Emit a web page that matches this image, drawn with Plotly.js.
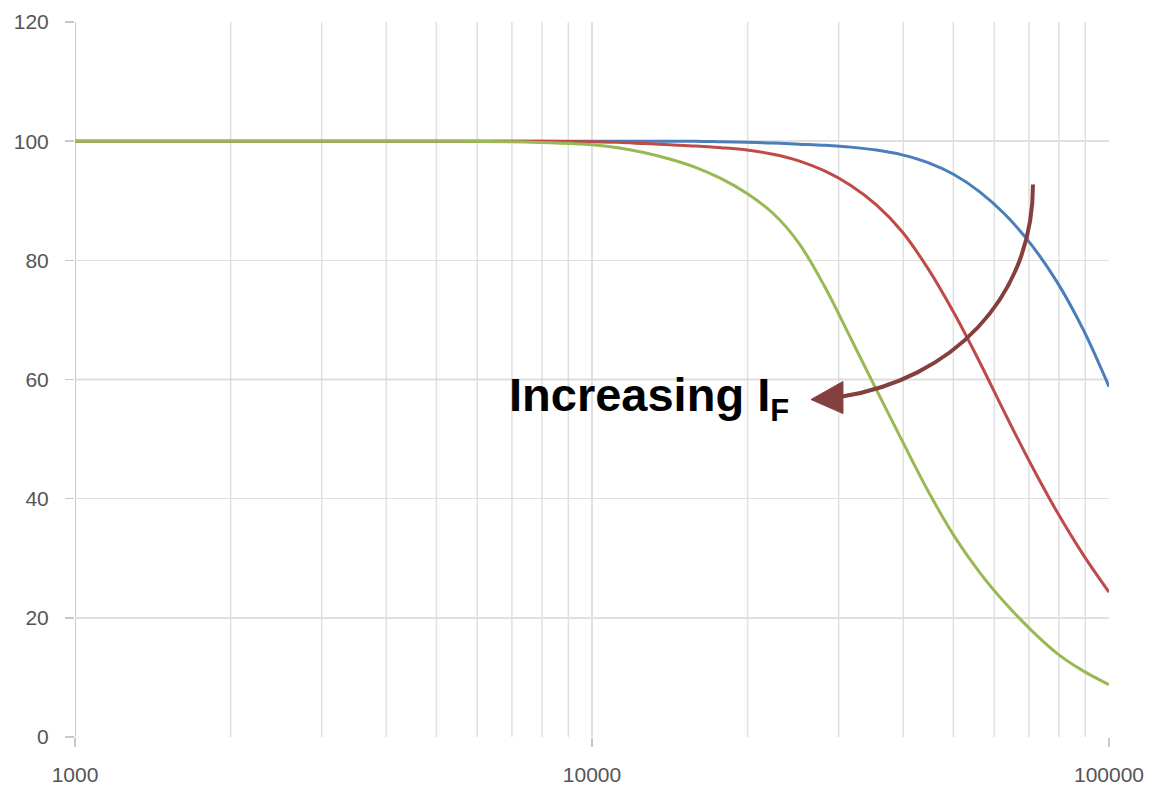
<!DOCTYPE html>
<html>
<head>
<meta charset="utf-8">
<script src="https://cdn.plot.ly/plotly-3.0.1.min.js"></script>
<style>html,body{margin:0;padding:0;background:#fff;}#chart{width:1155px;height:788px;}</style>
</head>
<body>
<div id="chart"></div>
<script>
// Frequency (x, log scale)
const freq = [1000, 2000, 3000, 5000, 7000, 10000, 11220, 12589, 14125, 15849, 17783, 19953, 22387, 25119, 28184, 31623, 35481, 39811, 44668, 50119, 56234, 63096, 70795, 79433, 89125, 100000];
// Series values (%)
const blueVals  = [100, 100, 100, 100, 100, 100, 100, 100, 100, 100, 99.9, 99.8, 99.7, 99.5, 99.3, 99.0, 98.5, 97.7, 96.4, 94.4, 91.5, 87.6, 82.6, 76.3, 68.4, 58.8];
const redVals   = [100, 100, 100, 100, 100, 99.9, 99.8, 99.6, 99.4, 99.2, 98.9, 98.5, 97.8, 96.7, 95.0, 92.6, 89.3, 84.8, 78.6, 71.2, 62.9, 54.1, 45.6, 37.7, 30.6, 24.3];
const greenVals = [100, 100, 100, 100, 99.9, 99.4, 98.9, 98.1, 97.0, 95.6, 93.7, 91.2, 87.9, 82.9, 75.6, 67.0, 58.3, 49.7, 41.3, 33.8, 27.6, 22.4, 17.9, 14.0, 11.1, 8.8];
// Axis ticks
const xMajor = [1000, 10000, 100000];
const xMajorText = ['1000', '10000', '100000'];
const xMinor = [2000, 3000, 4000, 5000, 6000, 7000, 8000, 9000, 20000, 30000, 40000, 50000, 60000, 70000, 80000, 90000];
const yTicks = [0, 20, 40, 60, 80, 100, 120];
const annotationText = '<b>Increasing I<sub><span style="font-size:31px">F</span></sub></b>';

const lineStyle = (c) => ({color: c, width: 3, shape: 'spline', smoothing: 1});
const traces = [
  {x: freq, y: blueVals, mode: 'lines', line: lineStyle('#4a7ebb'), name: 'blue', hoverinfo: 'skip'},
  {x: freq, y: redVals, mode: 'lines', line: lineStyle('#be4b48'), name: 'red', hoverinfo: 'skip'},
  {x: freq, y: greenVals, mode: 'lines', line: lineStyle('#98b954'), name: 'green', hoverinfo: 'skip'}
];

const px = (v) => (v - 75) / 1034;
const py = (v) => (737.5 - v) / 715;
const P = (a, b) => px(a).toFixed(4) + ',' + py(b).toFixed(4);

const darkGrid = '#b4b4b4';
const shapes = [];
// light minor gridlines between decades
xMinor.forEach(v => shapes.push({type: 'line', xref: 'x', yref: 'paper', x0: v, x1: v, y0: 0, y1: 1, line: {color: '#e0e0e0', width: 1.5}, layer: 'below'}));
[20, 60, 100].forEach(v => shapes.push({type: 'line', xref: 'paper', yref: 'y', x0: 0, x1: 1, y0: v, y1: v, line: {color: darkGrid, width: 1.5}, layer: 'below'}));
[1000, 10000].forEach(v => shapes.push({type: 'line', xref: 'x', yref: 'paper', x0: v, x1: v, y0: 0, y1: 1, line: {color: darkGrid, width: 1.5}, layer: 'below'}));
shapes.push({type: 'path', xref: 'paper', yref: 'paper',
  path: 'M' + P(1033, 185) + ' C' + P(1033, 300) + ' ' + P(950, 380) + ' ' + P(842, 397),
  line: {color: '#843f3f', width: 4}});
shapes.push({type: 'path', xref: 'paper', yref: 'paper',
  path: 'M' + P(811, 400) + ' L' + P(843, 382) + ' L' + P(843, 414) + ' Z',
  fillcolor: '#843f3f', line: {color: '#843f3f', width: 1}});

const layout = {
  width: 1155, height: 788,
  margin: {l: 75, r: 46, t: 22, b: 51, pad: 0},
  paper_bgcolor: '#ffffff', plot_bgcolor: '#ffffff',
  showlegend: false,
  font: {family: 'Liberation Sans, Arial, sans-serif', size: 21, color: '#555555'},
  xaxis: {
    type: 'log', range: [3, 5],
    tickmode: 'array', tickvals: xMajor, ticktext: xMajorText,
    ticks: 'outside', ticklen: 9, tickcolor: '#c8c8c8', tickwidth: 1.5,
    showgrid: true, gridcolor: '#e0e0e0', gridwidth: 1.5,
    zeroline: false, showline: false,
    ticklabelstandoff: 10,
    tickfont: {size: 21, color: '#555555'}
  },
  yaxis: {
    range: [0, 120],
    tickmode: 'array', tickvals: yTicks,
    ticks: 'outside', ticklen: 9, tickcolor: '#c8c8c8', tickwidth: 1.5,
    showgrid: true, gridcolor: '#e0e0e0', gridwidth: 1.5,
    zeroline: false, showline: false,
    ticklabelstandoff: 12,
    tickfont: {size: 21, color: '#555555'}
  },
  shapes: shapes,
  annotations: [{
    text: annotationText, xref: 'paper', yref: 'paper',
    x: px(507), y: py(398), xanchor: 'left', yanchor: 'middle',
    showarrow: false,
    font: {family: 'Liberation Sans, Arial, sans-serif', size: 47, color: '#000000'}
  }]
};

Plotly.newPlot('chart', traces, layout, {staticPlot: true, displayModeBar: false});
</script>
</body>
</html>
